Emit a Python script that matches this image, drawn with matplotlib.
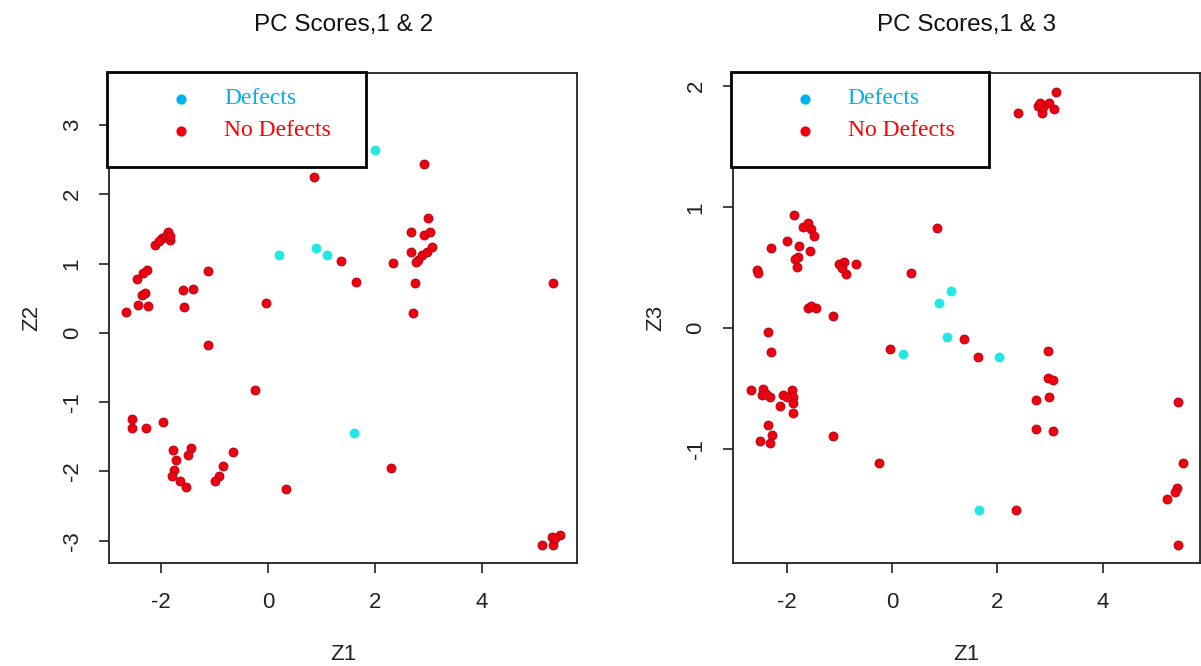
import matplotlib
matplotlib.use("Agg")
from matplotlib import pyplot as plt
from matplotlib.patches import Rectangle

plt.rcParams['font.family'] = ['Liberation Sans', 'DejaVu Sans']
plt.rcParams['axes.unicode_minus'] = False

# PC scores, Z1 vs Z2
def12_x = [2.0, 0.9, 0.2, 1.1, 1.61]
def12_y = [2.64, 1.23, 1.13, 1.13, -1.44]

nodef12_x = [0.86, 1.37, 1.64, 2.34, -0.04,
             -2.12, -1.99, -1.87, -1.84, -2.05, -1.92, -1.83,
             -2.45, -2.27, -2.34, -1.12, -1.59, -1.40, -1.57,
             -2.36, -2.30, -2.43, -2.25, -2.66,
             2.92, 3.00, 2.68, 2.92, 3.03, 2.68, 2.81, 2.88, 2.97, 3.07, 2.77, 2.75, 5.34, 2.72,
             -1.12, -0.24, -2.55, -2.55, -2.28, -1.97,
             -1.78, -1.73, -1.76, -1.80, -1.65, -1.54, -1.51, -1.44,
             -0.65, -0.85, -0.92, -0.99, 0.34, 2.30,
             5.13, 5.34, 5.32, 5.47, 5.37]
nodef12_y = [2.25, 1.04, 0.74, 1.01, 0.43,
             1.27, 1.37, 1.46, 1.34, 1.32, 1.40, 1.40,
             0.78, 0.91, 0.87, 0.89, 0.62, 0.64, 0.38,
             0.55, 0.58, 0.40, 0.39, 0.30,
             2.44, 1.66, 1.46, 1.41, 1.46, 1.17, 1.05, 1.13, 1.17, 1.24, 1.02, 0.72, 0.72, 0.29,
             -0.18, -0.82, -1.24, -1.37, -1.37, -1.28,
             -1.69, -1.83, -1.98, -2.07, -2.14, -2.22, -1.76, -1.66,
             -1.72, -1.92, -2.07, -2.14, -2.25, -1.95,
             -3.06, -3.06, -2.94, -2.92, -2.96]

# PC scores, Z1 vs Z3
def13_x = [0.89, 1.12, 1.04, 0.21, 2.03, 1.65]
def13_y = [0.21, 0.31, -0.07, -0.21, -0.24, -1.50]

nodef13_x = [3.11, 2.39, 2.77, 2.85, 2.98, 3.07, 2.87, 2.81,
             -1.86, -1.69, -1.59, -1.54, -1.48, -1.99, -2.30, -1.76, -1.56, -1.78, -1.84, -1.80, -2.56, -2.54,
             0.85, 0.36, -1.01, -0.91, -0.87, -0.95, -0.68,
             -1.59, -1.44, -1.54, -1.12,
             -2.35, -2.30, -0.04, 1.37, 1.63,
             -2.68, -2.45, -2.47, -2.32, -2.39, -2.07, -2.13, -1.90, -1.88, -1.88, -1.88, -1.99,
             -2.35, -2.28, -2.50, -2.31, -1.12, -0.25,
             2.96, 2.96, 3.06, 2.73, 2.98, 2.73, 3.06,
             5.43, 5.52, 5.41, 5.37, 5.22, 5.43, 2.35]
nodef13_y = [1.95, 1.78, 1.84, 1.78, 1.86, 1.81, 1.83, 1.86,
             0.94, 0.84, 0.87, 0.82, 0.76, 0.72, 0.66, 0.68, 0.64, 0.59, 0.57, 0.51, 0.48, 0.46,
             0.83, 0.46, 0.53, 0.55, 0.45, 0.50, 0.53,
             0.17, 0.17, 0.18, 0.10,
             -0.03, -0.20, -0.17, -0.09, -0.24,
             -0.51, -0.50, -0.55, -0.57, -0.54, -0.55, -0.64, -0.51, -0.57, -0.62, -0.70, -0.57,
             -0.80, -0.88, -0.93, -0.95, -0.89, -1.11,
             -0.19, -0.41, -0.43, -0.59, -0.57, -0.83, -0.85,
             -0.61, -1.11, -1.32, -1.35, -1.41, -1.79, -1.50]

titles = ["PC Scores,1 & 2", "PC Scores,1 & 3"]
ylabels = ["Z2", "Z3"]
legend_labels = ["Defects", "No Defects"]

red = "#ee0010"
cyan = "#20e8e4"
legend_cyan = "#00b0f0"

fig = plt.figure(figsize=(12.01, 6.66), dpi=100)
ax1 = fig.add_axes([0.0908, 0.1547, 0.3897, 0.7357])
ax2 = fig.add_axes([0.6103, 0.1547, 0.3888, 0.7357])

panels = [
    (ax1, def12_x, def12_y, nodef12_x, nodef12_y, (-2.98, 5.79), (-3.32, 3.75), [-3, -2, -1, 0, 1, 2, 3]),
    (ax2, def13_x, def13_y, nodef13_x, nodef13_y, (-3.02, 5.85), (-1.94, 2.11), [-1, 0, 1, 2]),
]

for i, (ax, dx, dy, nx, ny, xl, yl, yt) in enumerate(panels):
    ax.scatter(nx, ny, s=42, c=red, edgecolors="#b00010", linewidths=0.6, zorder=3)
    ax.scatter(dx, dy, s=42, c=cyan, edgecolors=cyan, linewidths=0.6, zorder=3)
    ax.set_xlim(xl)
    ax.set_ylim(yl)
    ax.set_xticks([-2, 0, 2, 4])
    ax.set_yticks(yt)
    ax.tick_params(axis="both", length=7, width=1.2, labelsize=16, colors="#222222")
    ax.tick_params(axis="x", pad=14)
    ax.tick_params(axis="y", pad=12, labelrotation=90)
    for lab in ax.get_yticklabels():
        lab.set_va("center")
    for sp in ax.spines.values():
        sp.set_linewidth(1.3)
        sp.set_color("#222222")
    ax.set_title(titles[i], fontsize=17.5, pad=30, color="#111111")
    ax.set_xlabel("Z1", fontsize=16, labelpad=22, color="#222222")
    ax.set_ylabel(ylabels[i], fontsize=16, labelpad=14, color="#222222")

    # R style legend box
    ax.add_patch(Rectangle((-0.004, 0.808), 0.553, 0.194, transform=ax.transAxes,
                           facecolor="white", edgecolor="black", linewidth=2,
                           clip_on=False, zorder=5))
    for j, (lab, col, mcol) in enumerate(zip(legend_labels, [legend_cyan, "#ff0000"], [legend_cyan, red])):
        yy = 0.947 - j * 0.065
        ax.scatter([0.154], [yy], s=40, c=mcol, transform=ax.transAxes, clip_on=False, zorder=6)
        ax.text(0.246, yy, lab, transform=ax.transAxes, color=col, fontsize=17,
                family=["Liberation Serif", "DejaVu Serif"], va="center", ha="left", zorder=6)

fig.savefig("out.png", dpi=100, facecolor="white")
